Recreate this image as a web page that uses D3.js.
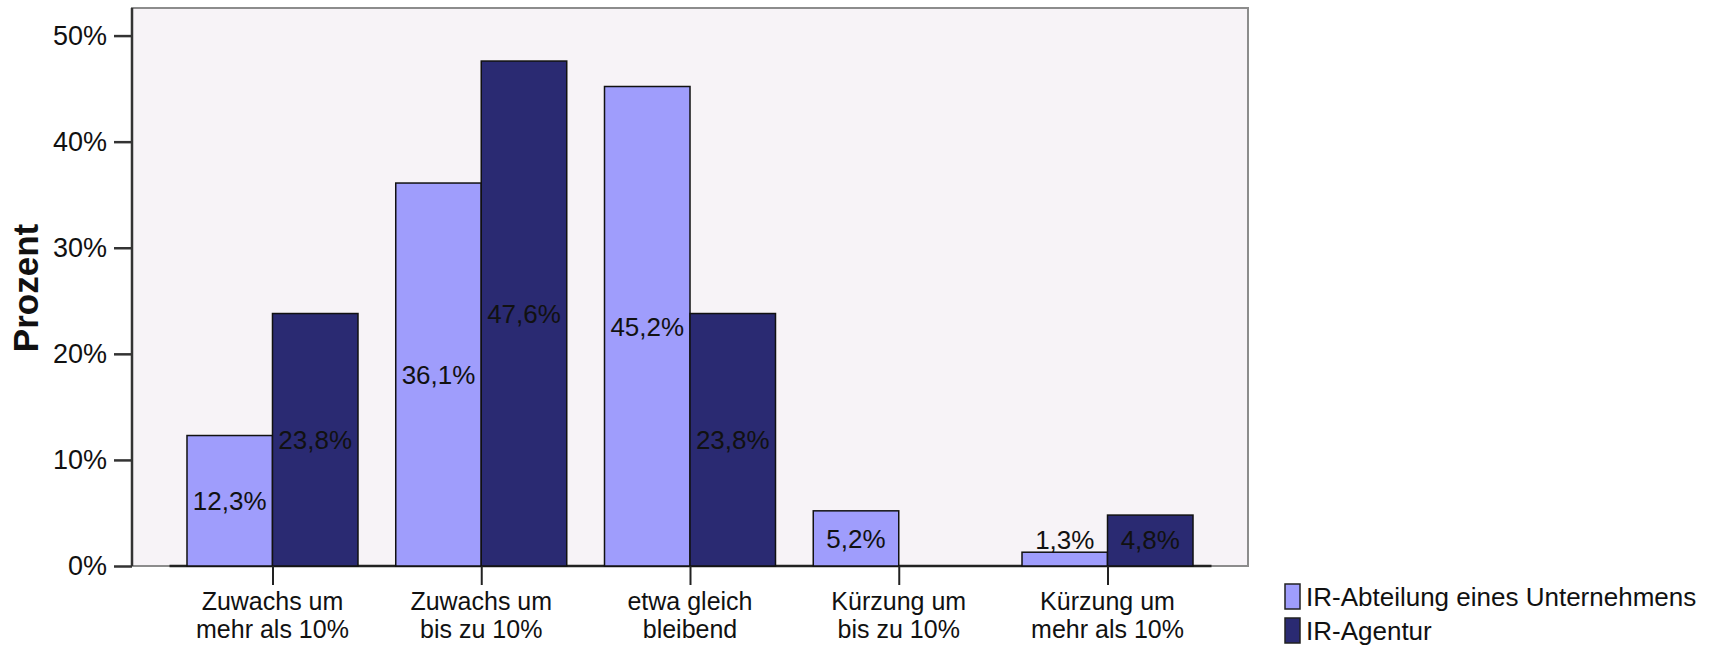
<!DOCTYPE html>
<html lang="de">
<head>
<meta charset="utf-8">
<title>Prozent</title>
<script src="https://d3js.org/d3.v7.min.js"></script>
<style>
  body { margin: 0; background: #fff; }
  text { font-family: "Liberation Sans", Arial, sans-serif; fill: #111; }
</style>
</head>
<body>
<script>
// data
var categories = ["Zuwachs um mehr als 10%", "Zuwachs um bis zu 10%", "etwa gleich bleibend", "Kürzung um bis zu 10%", "Kürzung um mehr als 10%"];
var categoryLines = [["Zuwachs um", "mehr als 10%"], ["Zuwachs um", "bis zu 10%"], ["etwa gleich", "bleibend"], ["Kürzung um", "bis zu 10%"], ["Kürzung um", "mehr als 10%"]];
var series = ["IR-Abteilung eines Unternehmens", "IR-Agentur"];
var unternehmen = [12.3, 36.1, 45.2, 5.2, 1.3];
var agentur = [23.8, 47.6, 23.8, 0, 4.8];
var yTicks = [0, 10, 20, 30, 40, 50];
var colors = ["#9f9dfc", "#2a2a72"];

var w = 1719, h = 646;
// plot frame (window.top is reserved, so own names)
var plotL = 132, plotR = 1248, plotT = 8, plotB = 566;

var svg = d3.select("body").append("svg")
  .attr("width", w)
  .attr("height", h);

var x = d3.scalePoint().domain(categories).range([plotL, plotR]).padding(0.673);
var xs = d3.scaleBand().domain(series).range([-85.5, 85.5]);
var y = d3.scaleLinear().domain([0, 52.6]).range([plotB, plotT]);

// plot background
svg.append("rect")
  .attr("x", plotL).attr("y", plotT)
  .attr("width", plotR - plotL).attr("height", plotB - plotT)
  .attr("fill", "#f7f3f7")
  .attr("stroke", "#8c8c8c")
  .attr("stroke-width", 2);

// zero reference line
svg.append("line")
  .attr("x1", x(categories[0]) - 103).attr("x2", x(categories[4]) + 104)
  .attr("y1", y(0)).attr("y2", y(0))
  .attr("stroke", "#222").attr("stroke-width", 2.5);

var rows = [];
categories.forEach(function(c, i){
  rows.push({cat: c, s: series[0], v: unternehmen[i]});
  rows.push({cat: c, s: series[1], v: agentur[i]});
});

svg.selectAll("rect.bar")
  .data(rows)
  .enter()
  .append("rect")
  .attr("class", "bar")
  .attr("x", function(d){ return x(d.cat) + xs(d.s); })
  .attr("y", function(d){ return y(d.v); })
  .attr("width", xs.bandwidth())
  .attr("height", function(d){ return y(0) - y(d.v); })
  .attr("fill", function(d){ return d.s == series[0] ? colors[0] : colors[1]; })
  .attr("stroke", "#111")
  .attr("stroke-width", 1.5);

var fmt = d3.format(".1f");
svg.selectAll("text.val")
  .data(rows.filter(function(d){ return d.v > 0; }))
  .enter()
  .append("text")
  .attr("class", "val")
  .attr("x", function(d){ return x(d.cat) + xs(d.s) + xs.bandwidth() / 2; })
  .attr("y", function(d){ return Math.min((y(d.v) + y(0)) / 2, y(0) - 26); })
  .attr("dy", "0.36em")
  .attr("text-anchor", "middle")
  .attr("font-size", "26px")
  .text(function(d){ return fmt(d.v).replace(".", ",") + "%"; });

// y axis
var yAxis = svg.append("g")
  .attr("transform", "translate(" + plotL + ",0)")
  .call(d3.axisLeft(y).tickValues(yTicks).tickSize(18).tickPadding(7)
    .tickFormat(function(d){ return d + "%"; }));
yAxis.select(".domain").attr("stroke", "#333").attr("stroke-width", 2.5)
  .attr("d", "M0," + plotT + "V" + plotB);
yAxis.selectAll(".tick line").attr("stroke", "#333").attr("stroke-width", 2.5);
yAxis.selectAll(".tick text").attr("font-size", "27px").attr("fill", "#222")
  .style("font-family", "'Liberation Sans', Arial, sans-serif");

// x axis
var xAxis = svg.append("g")
  .attr("transform", "translate(0," + plotB + ")")
  .call(d3.axisBottom(x).tickSize(19).tickFormat(""));
xAxis.select(".domain").remove();
xAxis.selectAll(".tick line").attr("stroke", "#222").attr("stroke-width", 2);

categories.forEach(function(c, i){
  var t = svg.append("text")
    .attr("x", x(c))
    .attr("y", 610)
    .attr("text-anchor", "middle")
    .attr("font-size", "25px");
  categoryLines[i].forEach(function(line, j){
    t.append("tspan").attr("x", x(c)).attr("dy", j == 0 ? 0 : 28).text(line);
  });
});

// axis title
svg.append("text")
  .attr("transform", "translate(38,288) rotate(-90)")
  .attr("text-anchor", "middle")
  .attr("font-size", "35px")
  .attr("font-weight", "bold")
  .text("Prozent");

// legend
var legend = svg.selectAll("g.legend")
  .data(series)
  .enter()
  .append("g")
  .attr("class", "legend")
  .attr("transform", function(d, i){ return "translate(1285," + (584 + i * 34) + ")"; });
legend.append("rect")
  .attr("width", 15).attr("height", 25)
  .attr("fill", function(d, i){ return colors[i]; })
  .attr("stroke", "#222").attr("stroke-width", 1.5);
legend.append("text")
  .attr("x", 21).attr("y", 12.5).attr("dy", "0.36em")
  .attr("font-size", "26px")
  .text(function(d){ return d; });
</script>
</body>
</html>
